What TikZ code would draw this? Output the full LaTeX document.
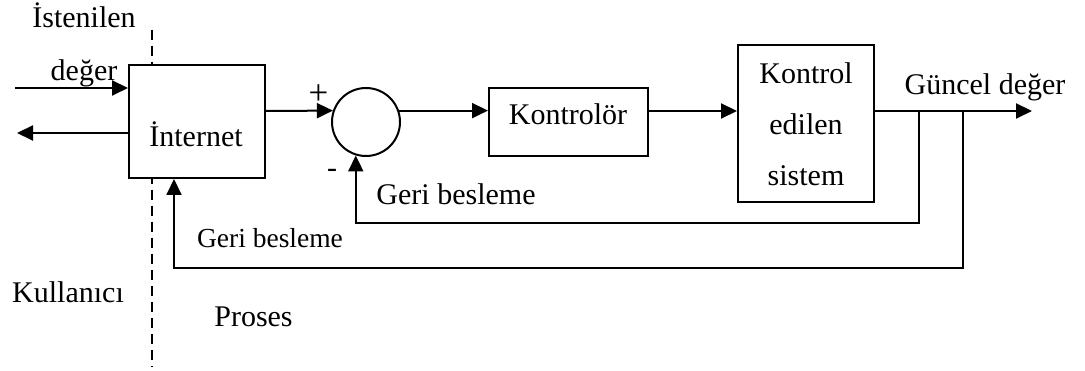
\documentclass[tikz,border=0pt]{standalone}
\usepackage{fontspec}
\setmainfont{Liberation Serif}
\usetikzlibrary{arrows.meta}
\usetikzlibrary{positioning}

\begin{document}
\begin{tikzpicture}[x=0.4pt,y=-0.4pt,line width=0.8pt,
  blok/.style={draw,fill=white,rectangle,inner sep=0pt},
  ok/.style={-{Triangle[length=6.4pt,width=6pt]}},
  yazi/.style={anchor=base,inner sep=0pt,font=\fontsize{12}{14}\selectfont}]
\useasboundingbox (0,0) rectangle (1085,371);

% kullanici / proses siniri
\coordinate (ust) at (152,30);
\coordinate (alt) at (152,367);
\draw[line width=0.6pt,dash pattern=on 4pt off 2.4pt] (ust) -- (alt);

% bloklar
\node[blok,minimum width=54.4pt,minimum height=45.2pt] (internet) at (197,121.5) {};
\node[draw,circle,minimum size=27.2pt,inner sep=0pt] (toplam) at (366,122) {};
\node[blok,minimum width=63.6pt,minimum height=27.2pt] (kontrolor) at (568.5,122) {};
\node[blok,minimum width=54.4pt,minimum height=62.8pt] (sistem) at (806,123.5) {};

% ana hat
\coordinate (hat) at (0,111);
\coordinate (cikis) at (1032,111);
\draw[ok] (internet.east |- hat) -- (toplam.161);
\draw[ok] (toplam.19) -- (kontrolor.west |- toplam.19);
\draw[ok] (kontrolor.east |- hat) -- (sistem.west |- hat);
\draw[ok] (sistem.east |- hat) -- (cikis);

% geri besleme yollari
\coordinate (dal1) at (919,111);
\coordinate (geri1) at (919,223);
\coordinate (dal2) at (963,111);
\coordinate (geri2) at (963,268);
\draw[ok] (dal1) -- (geri1) -| (toplam.253);
\draw[ok] (dal2) -- (geri2) -| ([xshift=-9.2pt]internet.south);

% kullanici girisi / cikisi
\coordinate (giris) at (15,88);
\coordinate (donus) at (17,133);
\draw[ok] (giris) -- (giris -| internet.west);
\draw[ok] (internet.west |- donus) -- (donus);

% yazilar
\node[yazi] (istenilen) at (84,28) {İstenilen};
\node[yazi] (deger) at (84,81) {değer};
\node[yazi] (internetyazi) at (196,147) {İnternet};
\node[inner sep=0pt,font=\fontsize{14}{16}\selectfont] (arti) at (318.5,95) {+};
\node[inner sep=0pt,font=\fontsize{12}{14}\selectfont] (eksi) at (332,173) {-};
\node[yazi] (kontrolyazi) at (568,125) {Kontrolör};
\node[align=center,inner sep=0pt,font=\fontsize{12}{20.4}\selectfont] (sistemyazi) at (806,124) {Kontrol\\edilen\\sistem};
\node[yazi] (guncel) at (985,95) {Güncel değer};
\node[yazi] (geri1yazi) at (456,205) {Geri besleme};
\node[yazi,font=\fontsize{11}{13}\selectfont] (geri2yazi) at (270,248) {Geri besleme};
\node[yazi] (kullanici) at (68,303) {Kullanıcı};
\node[yazi] (proses) at (253.5,327) {Proses};

\end{tikzpicture}
\end{document}
